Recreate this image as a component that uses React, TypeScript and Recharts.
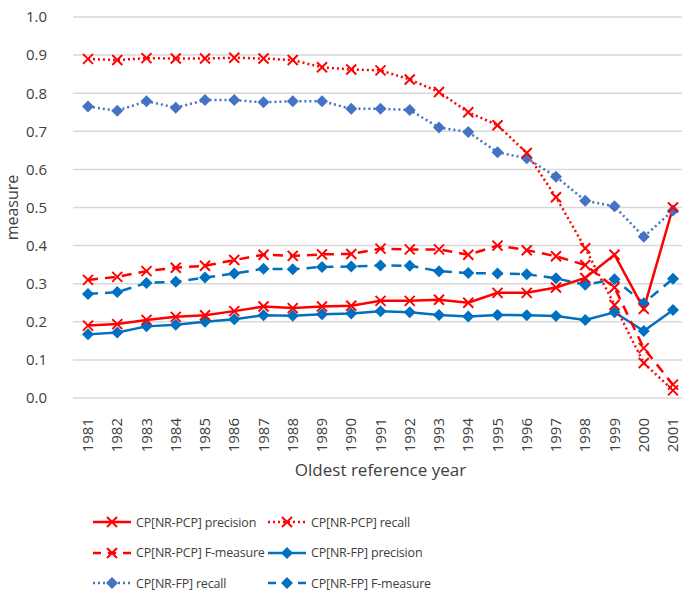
import { LineChart, Line, XAxis, YAxis, CartesianGrid, Label } from 'recharts';

const years = [
  '1981', '1982', '1983', '1984', '1985', '1986', '1987', '1988', '1989', '1990', '1991',
  '1992', '1993', '1994', '1995', '1996', '1997', '1998', '1999', '2000', '2001',
];

const pcpPrecision = [0.19, 0.194, 0.205, 0.213, 0.217, 0.228, 0.24, 0.236, 0.24, 0.242, 0.255, 0.255, 0.258, 0.25, 0.276, 0.276, 0.29, 0.315, 0.376, 0.234, 0.5];
const pcpRecall = [0.89, 0.887, 0.892, 0.891, 0.891, 0.893, 0.891, 0.887, 0.868, 0.862, 0.86, 0.836, 0.803, 0.75, 0.716, 0.643, 0.527, 0.393, 0.244, 0.092, 0.02];
const pcpF = [0.31, 0.318, 0.333, 0.342, 0.347, 0.362, 0.376, 0.373, 0.377, 0.378, 0.392, 0.39, 0.39, 0.376, 0.4, 0.388, 0.372, 0.349, 0.29, 0.131, 0.035];
const fpPrecision = [0.167, 0.172, 0.188, 0.192, 0.2, 0.207, 0.217, 0.216, 0.22, 0.222, 0.228, 0.225, 0.218, 0.214, 0.218, 0.217, 0.215, 0.205, 0.225, 0.176, 0.231];
const fpRecall = [0.765, 0.754, 0.779, 0.762, 0.782, 0.782, 0.776, 0.779, 0.779, 0.759, 0.759, 0.756, 0.71, 0.698, 0.645, 0.629, 0.581, 0.518, 0.503, 0.423, 0.492];
const fpF = [0.273, 0.278, 0.302, 0.305, 0.316, 0.327, 0.339, 0.338, 0.344, 0.345, 0.348, 0.347, 0.333, 0.328, 0.327, 0.325, 0.314, 0.297, 0.312, 0.249, 0.313];

const yTicks = [0, 0.1, 0.2, 0.3, 0.4, 0.5, 0.6, 0.7, 0.8, 0.9, 1.0];

const data = years.map((year, i) => ({
  year,
  pcpPrecision: pcpPrecision[i],
  pcpRecall: pcpRecall[i],
  pcpF: pcpF[i],
  fpPrecision: fpPrecision[i],
  fpRecall: fpRecall[i],
  fpF: fpF[i],
}));

const RED = '#FF0000';
const BLUE = '#0070C0';
const LIGHT_BLUE = '#4472C4';
const TEXT = '#404040';
const FONT = '"Open Sans", Lato, sans-serif';

const DASH = '10 7';
const DOT = '2 3';

const Cross = (props: { cx?: number; cy?: number }) => {
  const { cx, cy } = props;
  if (cx == null || cy == null) return null;
  const s = 5;
  return (
    <g stroke={RED} strokeWidth={2}>
      <line x1={cx - s} y1={cy - s} x2={cx + s} y2={cy + s} />
      <line x1={cx - s} y1={cy + s} x2={cx + s} y2={cy - s} />
    </g>
  );
};

const diamond = (color: string) => (props: { cx?: number; cy?: number }) => {
  const { cx, cy } = props;
  if (cx == null || cy == null) return null;
  const s = 6;
  return <path d={`M${cx},${cy - s}L${cx + s},${cy}L${cx},${cy + s}L${cx - s},${cy}Z`} fill={color} />;
};

const YearTick = (props: { x?: number; y?: number; payload?: { value: string } }) => {
  const { x = 0, y = 0, payload } = props;
  return (
    <text
      x={0}
      y={0}
      transform={`translate(${x + 5},${y + 12}) rotate(-90)`}
      textAnchor="end"
      fontSize={15}
      fontFamily={FONT}
      fill={TEXT}
    >
      {payload?.value}
    </text>
  );
};

const legendItems = [
  { label: 'CP[NR-PCP] precision', color: RED, dash: undefined, marker: 'x' },
  { label: 'CP[NR-PCP] recall', color: RED, dash: DOT, marker: 'x' },
  { label: 'CP[NR-PCP] F-measure', color: RED, dash: DASH, marker: 'x' },
  { label: 'CP[NR-FP] precision', color: BLUE, dash: undefined, marker: 'd' },
  { label: 'CP[NR-FP] recall', color: LIGHT_BLUE, dash: DOT, marker: 'd' },
  { label: 'CP[NR-FP] F-measure', color: BLUE, dash: DASH, marker: 'd' },
];

function LegendIcon({ color, dash, marker }: { color: string; dash?: string; marker: string }) {
  return (
    <svg width={38} height={14} style={{ marginRight: 5, flexShrink: 0 }}>
      <line x1={0} y1={7} x2={38} y2={7} stroke={color} strokeWidth={2.5} strokeDasharray={dash === DASH ? '8 7' : dash} />
      {marker === 'x' ? (
        <g stroke={RED} strokeWidth={2}>
          <line x1={14} y1={2} x2={24} y2={12} />
          <line x1={14} y1={12} x2={24} y2={2} />
        </g>
      ) : (
        <path d="M19,1L25,7L19,13L13,7Z" fill={color} />
      )}
    </svg>
  );
}

export default function App() {
  return (
    <div style={{ position: 'absolute', left: 0, top: 0, width: 682, height: 592, overflow: 'hidden', background: '#fff' }}>
      <LineChart width={698} height={480} data={data} margin={{ top: 17, right: 10, bottom: 0, left: 0 }}>
        <CartesianGrid vertical={false} stroke="#d9d9d9" strokeWidth={1.5} />
        <XAxis
          dataKey="year"
          axisLine={false}
          tickLine={false}
          interval={0}
          height={82}
          padding={{ left: 15, right: 15 }}
          tick={<YearTick />}
        >
          <Label value="Oldest reference year" position="insideBottom" offset={4} fontSize={17} fontFamily={FONT} fill={TEXT} />
        </XAxis>
        <YAxis
          width={73}
          domain={[0, 1]}
          ticks={yTicks}
          axisLine={false}
          tickLine={false}
          tickFormatter={(v: number) => v.toFixed(1)}
          tick={{ fontSize: 15, fontFamily: FONT, fill: TEXT }}
          tickMargin={20}
        >
          <Label value="measure" angle={-90} position="insideLeft" offset={12} fontSize={16} fontFamily={FONT} fill={TEXT} style={{ textAnchor: 'middle' }} />
        </YAxis>
        <Line dataKey="fpPrecision" stroke={BLUE} strokeWidth={2.5} dot={diamond(BLUE)} isAnimationActive={false} />
        <Line dataKey="fpF" stroke={BLUE} strokeWidth={2.5} strokeDasharray={DASH} dot={diamond(BLUE)} isAnimationActive={false} />
        <Line dataKey="fpRecall" stroke={LIGHT_BLUE} strokeWidth={2.5} strokeDasharray={DOT} dot={diamond(LIGHT_BLUE)} isAnimationActive={false} />
        <Line dataKey="pcpPrecision" stroke={RED} strokeWidth={2.5} dot={<Cross />} isAnimationActive={false} />
        <Line dataKey="pcpF" stroke={RED} strokeWidth={2.5} strokeDasharray={DASH} dot={<Cross />} isAnimationActive={false} />
        <Line dataKey="pcpRecall" stroke={RED} strokeWidth={2.5} strokeDasharray={DOT} dot={<Cross />} isAnimationActive={false} />
      </LineChart>
      <div
        style={{
          position: 'absolute',
          left: 93,
          top: 511,
          display: 'grid',
          gridTemplateColumns: '175px 220px',
          rowGap: 8.5,
          fontFamily: FONT,
          fontSize: 12.5,
          letterSpacing: -0.2,
          color: TEXT,
        }}
      >
        {legendItems.map((item) => (
          <div key={item.label} style={{ display: 'flex', alignItems: 'center', height: 22, whiteSpace: 'nowrap' }}>
            <LegendIcon color={item.color} dash={item.dash} marker={item.marker} />
            <span>{item.label}</span>
          </div>
        ))}
      </div>
    </div>
  );
}
